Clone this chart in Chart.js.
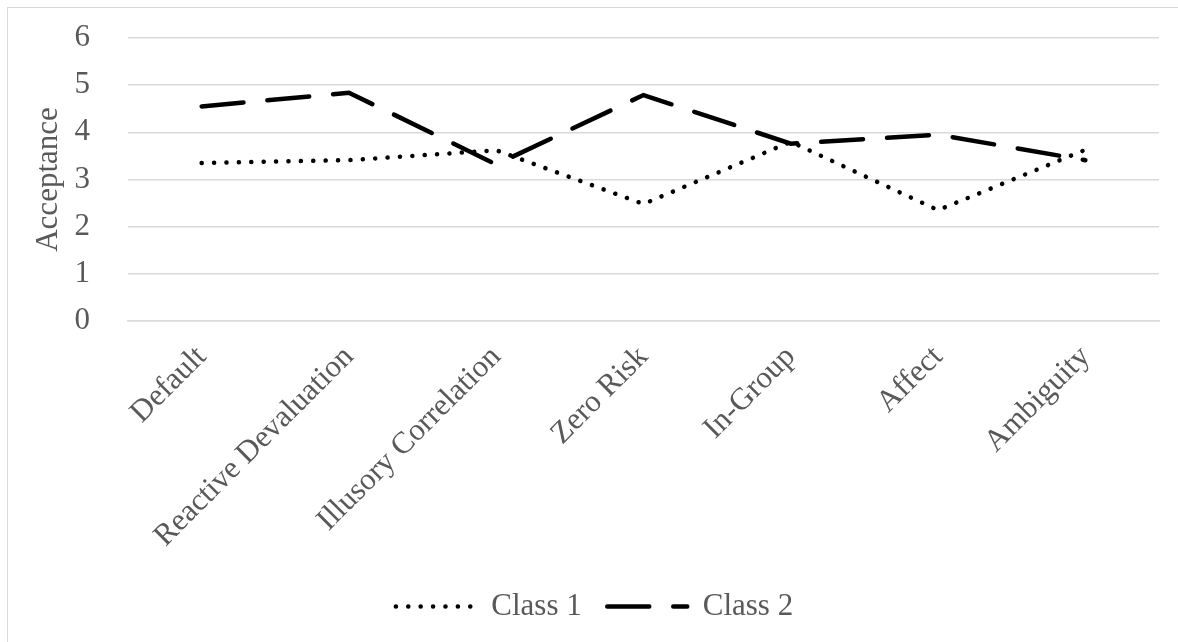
<!DOCTYPE html>
<html>
<head>
<meta charset="utf-8">
<script src="https://cdn.jsdelivr.net/npm/chart.js@4"></script>
<style>
  html, body { margin: 0; padding: 0; background: #fff; }
  #frame {
    position: absolute; left: 7px; top: 7px; width: 1200px; height: 700px;
    border-left: 1px solid #d9d9d9; border-top: 1px solid #d9d9d9;
  }
  #wrap { position: absolute; left: 0; top: 0; width: 1178px; height: 642px; }
</style>
</head>
<body>
<div id="frame"></div>
<div id="wrap"><canvas id="acceptanceChart"></canvas></div>
<script>
const biases = ['Default', 'Reactive Devaluation', 'Illusory Correlation', 'Zero Risk', 'In-Group', 'Affect', 'Ambiguity'];
const class1 = [3.35, 3.41, 3.62, 2.48, 3.80, 2.35, 3.63];
const class2 = [4.55, 4.84, 3.32, 4.79, 3.76, 3.95, 3.41];
const yTicks = [0, 1, 2, 3, 4, 5, 6];

const serif = '"Liberation Serif", "Times New Roman", serif';
const grey = '#595959';
const fontSize = 31;

const data = {
    labels: biases,
    datasets: [{
        label: 'Class 1',
        data: class1,
        borderColor: '#000',
        backgroundColor: '#000',
        borderWidth: 4.5,
        borderDash: [0.1, 12.3],
        borderCapStyle: 'round',
        pointRadius: 0,
        tension: 0
    }, {
        label: 'Class 2',
        data: class2,
        borderColor: '#000',
        backgroundColor: '#000',
        borderWidth: 4.5,
        borderDash: [42, 24],
        borderCapStyle: 'round',
        pointRadius: 0,
        tension: 0
    }]
};

// legend samples keep each series' dash pattern; trailing spaces widen the gap between items
function legendLabels(chart) {
    return chart.data.datasets.map((ds, i) => ({
        text: i === 0 ? ds.label + '  ' : ds.label,
        datasetIndex: i,
        fillStyle: '#000',
        strokeStyle: '#000',
        fontColor: grey,
        lineWidth: ds.borderWidth,
        lineDash: ds.borderDash,
        lineCap: 'round',
        pointStyle: 'line',
        hidden: false
    }));
}

const config = {
    type: 'line',
    data: data,
    options: {
        responsive: true,
        maintainAspectRatio: false,
        animation: false,
        layout: {
            autoPadding: false,
            padding: { left: 30, right: 19, top: 38, bottom: 10 }
        },
        scales: {
            x: {
                offset: true,
                grid: { display: false },
                border: { color: '#d9d9d9', width: 1.5 },
                ticks: {
                    color: grey,
                    font: { family: serif, size: fontSize },
                    minRotation: 45,
                    maxRotation: 45,
                    padding: 10
                },
                afterFit: (scale) => { scale.height = 260; }
            },
            y: {
                min: 0,
                max: 6,
                afterBuildTicks: (scale) => { scale.ticks = yTicks.map(v => ({ value: v })); },
                grid: { color: '#d9d9d9', lineWidth: 1.5, drawTicks: false },
                border: { display: false },
                ticks: {
                    color: grey,
                    font: { family: serif, size: fontSize },
                    padding: 38
                },
                title: {
                    display: true,
                    text: 'Acceptance',
                    color: grey,
                    font: { family: serif, size: fontSize },
                    padding: 0
                },
                // fixed axis width; the wide tick padding should not push the plot down
                afterFit: (scale) => {
                    scale.width = 98;
                    scale.paddingTop = 0;
                    scale.paddingBottom = 0;
                }
            }
        },
        plugins: {
            legend: {
                display: true,
                position: 'bottom',
                labels: {
                    color: grey,
                    font: { family: serif, size: fontSize },
                    usePointStyle: true,
                    pointStyle: 'line',
                    pointStyleWidth: 80,
                    boxHeight: 28,
                    padding: 10,
                    generateLabels: legendLabels
                }
            },
            tooltip: { enabled: false }
        }
    }
};

const acceptanceChart = new Chart(
    document.querySelector('#acceptanceChart'),
    config
);
</script>
</body>
</html>
